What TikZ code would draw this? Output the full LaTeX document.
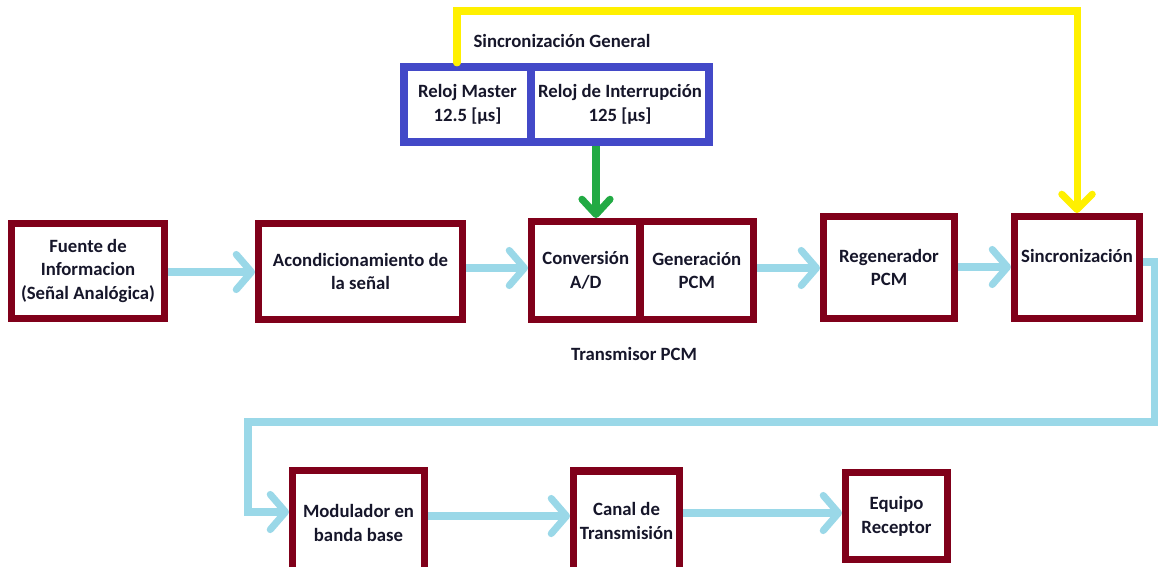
\documentclass[tikz,border=0pt]{standalone}
\usepackage{fontspec}
\setmainfont{Carlito}
\usetikzlibrary{arrows.meta}
\definecolor{boxred}{HTML}{80001A}
\definecolor{clkblue}{HTML}{4349C8}
\definecolor{flowc}{HTML}{9AD8E8}
\definecolor{syncy}{HTML}{FFF000}
\definecolor{clkg}{HTML}{22AA44}
\definecolor{txtc}{HTML}{16162A}
\tikzset{
  blk/.style={draw=boxred, line width=6pt, align=center, inner sep=0pt, text=txtc},
  clkbox/.style={draw=clkblue, line width=7pt, align=center, inner sep=0pt, text=txtc},
  lbl/.style={text=txtc},
  flow/.style={draw=flowc, line width=6pt, -{Straight Barb[length=13pt,width=30pt,round]}},
  flowline/.style={draw=flowc, line width=6pt},
  sync/.style={draw=syncy, line width=6pt, line cap=round, -{Straight Barb[length=13pt,width=26pt,round]}},
  clk/.style={draw=clkg, line width=6pt, -{Straight Barb[length=13pt,width=24pt,round]}}
}
\begin{document}
\begin{tikzpicture}[x=0.03cm,y=-0.03cm,font=\fontsize{16}{20.4}\selectfont\bfseries]
\def\u{0.03cm}
\clip (0,0) rectangle (1158,567);
\fill[white] (0,0) rectangle (1158,567);
% reloj
\node[clkbox, minimum width=127*\u, minimum height=75*\u] (master) at (467.5,104.5) {Reloj Master\\12.5 [µs]};
\node[clkbox, minimum width=178*\u, minimum height=75*\u] (interr) at (620,104.5) {Reloj de Interrupción\\125 [µs]};
\node[lbl] (sgen) at (562,41) {Sincronización General};
% transmisor
\node[blk, minimum width=153*\u, minimum height=95*\u] (fuente) at (88,271) {Fuente de\\Informacion\\(Señal Analógica)};
\node[blk, minimum width=204*\u, minimum height=96*\u] (acond) at (360.5,271.5) {Acondicionamiento de\\la señal};
\node[blk, minimum width=108.5*\u, minimum height=98*\u] (conv) at (585.75,270.5) {Conversión\\A/D};
\node[blk, minimum width=113.5*\u, minimum height=98*\u] (gen) at (696.75,270.5) {Generación\\PCM};
\node[lbl] (tpcm) at (634,354) {Transmisor PCM};
\node[blk, minimum width=131*\u, minimum height=102*\u] (regen) at (889,267.5) {Regenerador\\PCM};
\node[blk, minimum width=125*\u, minimum height=102*\u] (sinc) at (1077,267.5) {Sincronización\\\phantom{X}};
% canal
\node[blk, minimum width=132*\u, minimum height=105*\u] (mod) at (358.5,523) {Modulador en\\banda base};
\node[blk, minimum width=106*\u, minimum height=100*\u] (canal) at (626.5,521) {Canal de\\Transmisión};
\node[blk, minimum width=102*\u, minimum height=87*\u] (equipo) at (896.5,516) {Equipo\\Receptor};
% conexiones
\coordinate (ya) at (457,11);
\coordinate (gx) at (596,0);
\coordinate (c1) at (1154,262); \coordinate (c2) at (1154,422);
\coordinate (c3) at (248,422); \coordinate (c4) at (248,512);
\draw[sync] (master.north -| ya) -- (ya) -| (sinc.north);
\draw[clk] (interr.south -| gx) -- (conv.north -| gx);
\draw[flow] (fuente.east |- 0,272) -- (acond.west |- 0,272);
\draw[flow] (acond.east |- 0,268) -- (conv.west |- 0,268);
\draw[flow] (gen.east |- 0,268) -- (regen.west |- 0,268);
\draw[flow] (regen.east |- 0,267) -- (sinc.west |- 0,267);
\draw[flowline] (sinc.east |- c1) -- (c1) -- (c2) -- (c3) -- (c4);
\draw[flow] ([xshift=-3pt]c4) -- (c4 -| mod.west);
\draw[flow] (mod.east |- 0,516) -- (canal.west |- 0,516);
\draw[flow] (canal.east |- 0,513) -- (equipo.west |- 0,513);
\end{tikzpicture}
\end{document}
